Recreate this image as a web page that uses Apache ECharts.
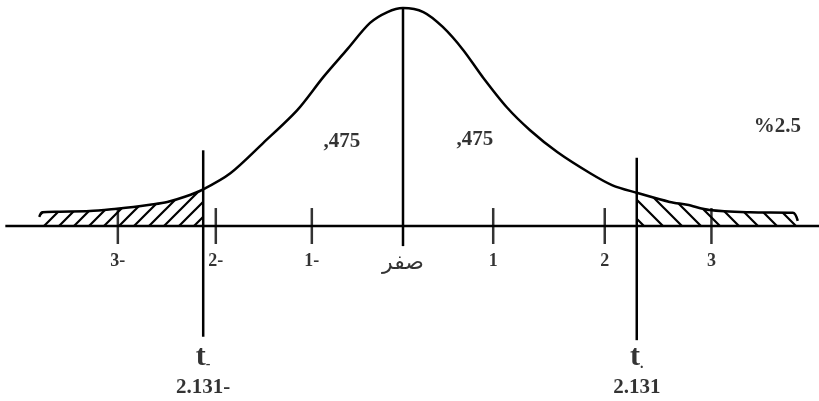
<!DOCTYPE html>
<html>
<head>
<meta charset="utf-8">
<script src="https://cdn.jsdelivr.net/npm/echarts@6/dist/echarts.min.js"></script>
<style>
  html, body { margin: 0; padding: 0; background: #fff; }
  #chart { width: 819px; height: 401px; }
</style>
</head>
<body>
<div id="chart"></div>
<script>
// curve (x in t units, y as density)
var curveX = [-3.75, -3.72, -3.54, -3.23, -2.95, -2.78, -2.61, -2.43, -2.25, -2.06, -1.78, -1.44, -1.09, -0.82, -0.58, -0.34, -0.16, 0,
  0.21, 0.41, 0.62, 0.82, 1.07, 1.31, 1.59, 1.93, 2.16, 2.41, 2.75, 2.93, 3.16, 3.58, 4.02, 4.07];
var curveY = [0.016, 0.024, 0.025, 0.026, 0.030, 0.033, 0.037, 0.042, 0.051, 0.064, 0.092, 0.145, 0.202, 0.260, 0.307, 0.354, 0.373, 0.380,
  0.373, 0.347, 0.307, 0.260, 0.207, 0.167, 0.129, 0.092, 0.071, 0.058, 0.042, 0.037, 0.028, 0.024, 0.023, 0.009];

var tickX = [-2.94, -1.93, -0.94, 0.93, 2.08, 3.18];
var tickLabels = ['3-', '2-', '1-', '1', '2', '3'];
var zeroLabel = 'صفر';

var critX = [-2.06, 2.41];
var critTop = [0.132, 0.119];
var critBottom = [-0.193, -0.199];
var critValues = ['2.131-', '2.131'];
var critNames = ['-', '.'];

var noteText = [',475', ',475', '%2.5'];
var noteX = [-0.63, 0.74, 3.86];
var noteY = [0.148, 0.150, 0.174];

var axisRange = [-4.10, 4.29];

function hatch(size, dir) {
  var c = document.createElement('canvas');
  c.width = c.height = size;
  var g = c.getContext('2d');
  g.strokeStyle = '#000';
  g.lineWidth = 2.2;
  g.beginPath();
  if (dir > 0) {
    g.moveTo(0, size); g.lineTo(size, 0);
    g.moveTo(-3, 3); g.lineTo(3, -3);
    g.moveTo(size - 3, size + 3); g.lineTo(size + 3, size - 3);
  } else {
    g.moveTo(0, 0); g.lineTo(size, size);
    g.moveTo(size - 3, -3); g.lineTo(size + 3, 3);
    g.moveTo(-3, size - 3); g.lineTo(3, size + 3);
  }
  g.stroke();
  return c;
}

var curve = curveX.map(function (x, i) { return [x, curveY[i]]; });
var leftTail = curve.filter(function (p) { return p[0] <= critX[0]; });
var rightTail = curve.filter(function (p) { return p[0] >= critX[1]; });
var peak = Math.max.apply(null, curveY);

var serif = '"Liberation Serif", "DejaVu Serif", serif';
var plainLabel = { color: '#000', textBorderWidth: 0, textShadowBlur: 0 };

function textLabel(extra) {
  return Object.assign({ show: true, position: 'inside', formatter: '{b}' }, plainLabel, extra);
}

var chart = echarts.init(document.getElementById('chart'));
chart.setOption({
  animation: false,
  grid: { left: 0, right: 0, top: 0, bottom: 0 },
  xAxis: { type: 'value', min: -4.155, max: 4.289, show: false },
  yAxis: { type: 'value', min: -0.305, max: 0.394, show: false },
  series: [
    {
      type: 'line', data: leftTail, smooth: 0.3, showSymbol: false, silent: true,
      lineStyle: { width: 0 },
      areaStyle: { color: { image: hatch(15, 1), repeat: 'repeat' }, opacity: 1 }
    },
    {
      type: 'line', data: rightTail, smooth: 0.3, showSymbol: false, silent: true,
      lineStyle: { width: 0 },
      areaStyle: { color: { image: hatch(19, -1), repeat: 'repeat' }, opacity: 1 }
    },
    {
      type: 'line', data: curve, smooth: 0.3, showSymbol: false,
      lineStyle: { color: '#000', width: 2.5 }
    },
    {
      type: 'line', data: [[axisRange[0], 0], [axisRange[1], 0]], showSymbol: false,
      lineStyle: { color: '#000', width: 2.5 }
    },
    {
      type: 'line', data: [[0, -0.035], [0, peak]], showSymbol: false,
      lineStyle: { color: '#000', width: 2.5 }
    },
    {
      type: 'line', data: [[critX[0], critTop[0]], [critX[0], critBottom[0]]], showSymbol: false,
      lineStyle: { color: '#000', width: 2.5 }
    },
    {
      type: 'line', data: [[critX[1], critTop[1]], [critX[1], critBottom[1]]], showSymbol: false,
      lineStyle: { color: '#000', width: 2.5 }
    },
    {
      type: 'scatter',
      data: tickX.map(function (x, i) { return { value: [x, 0], name: tickLabels[i] }; }),
      symbol: 'rect', symbolSize: [2.5, 36],
      itemStyle: { color: '#000' },
      label: textLabel({ position: 'bottom', distance: 8, fontFamily: serif, fontWeight: 'bold', fontSize: 18 })
    },
    {
      type: 'scatter', symbolSize: 0,
      data: [{ value: [0, -0.0645], name: zeroLabel }],
      label: textLabel({ fontFamily: '"DejaVu Sans", sans-serif', fontSize: 22 })
    },
    {
      type: 'scatter', symbolSize: 0,
      data: noteText.map(function (t, i) { return { value: [noteX[i], noteY[i]], name: t }; }),
      label: textLabel({ fontFamily: serif, fontWeight: 'bold', fontSize: 21 })
    },
    {
      type: 'scatter', symbolSize: 0,
      data: critX.map(function (x, i) { return { value: [x, -0.228], name: critNames[i] }; }),
      label: textLabel({
        formatter: function (p) { return '{t|t}{s|' + p.name + '}'; },
        rich: {
          t: { fontFamily: serif, fontWeight: 'bold', fontSize: 30, color: '#000' },
          s: { fontFamily: serif, fontWeight: 'bold', fontSize: 14, color: '#000', verticalAlign: 'bottom' }
        }
      })
    },
    {
      type: 'scatter', symbolSize: 0,
      data: critX.map(function (x, i) { return { value: [x, -0.282], name: critValues[i] }; }),
      label: textLabel({ fontFamily: serif, fontWeight: 'bold', fontSize: 21 })
    }
  ]
});
</script>
</body>
</html>
